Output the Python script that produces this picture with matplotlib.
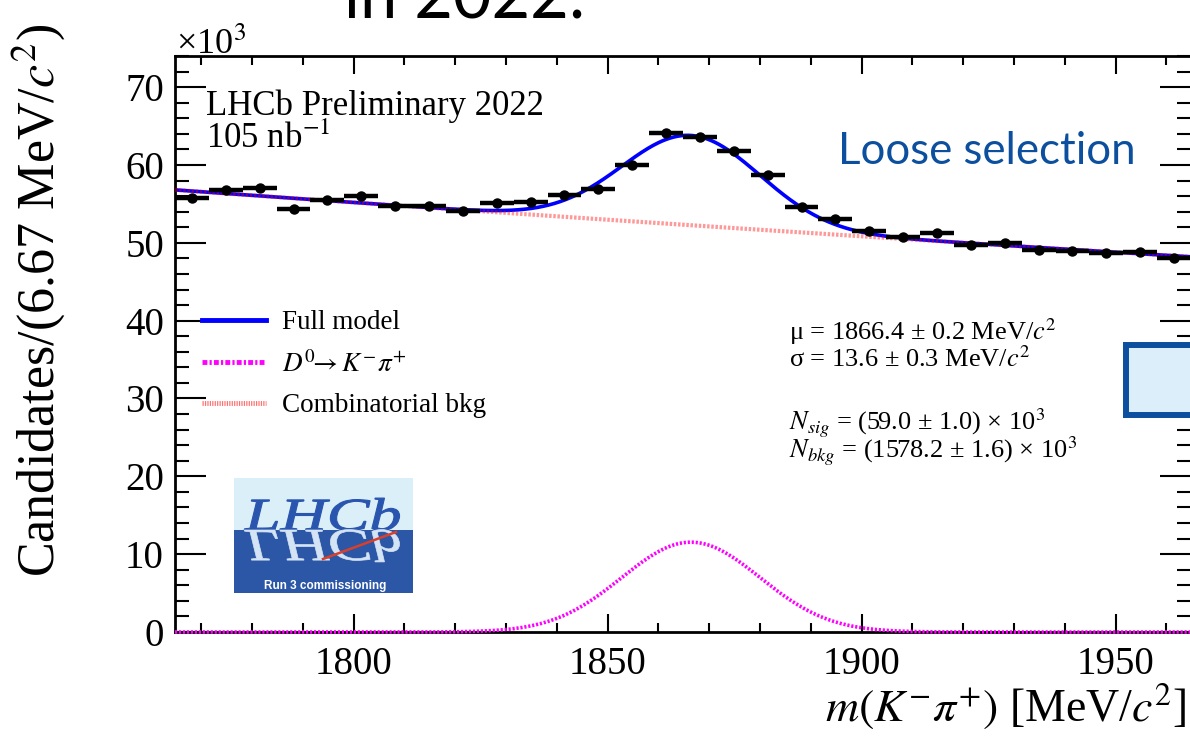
import numpy as np
import matplotlib
matplotlib.use('Agg')
import matplotlib.pyplot as plt
from matplotlib.patches import Rectangle, PathPatch
from matplotlib.textpath import TextPath
from matplotlib.font_manager import FontProperties
from matplotlib.transforms import Affine2D
from matplotlib.lines import Line2D
from matplotlib.ticker import MultipleLocator

plt.rcParams['font.family'] = ['Liberation Serif', 'DejaVu Serif']
plt.rcParams['mathtext.fontset'] = 'stix'

# Datos del histograma (x10^3 candidatos por bin)
m_lo, m_hi = 1764.84, 1964.84
n_bins = 30
counts = [55.7, 56.8, 57.0, 54.3, 55.5, 56.0, 54.7, 54.7, 54.1, 55.1,
          55.2, 56.2, 56.9, 60.0, 64.1, 63.6, 61.8, 58.7, 54.6, 53.0,
          51.5, 50.7, 51.2, 49.7, 50.0, 49.1, 49.0, 48.7, 48.8, 48.0]

# Parametros del ajuste
mu = 1866.4
sigma = 13.6
n_sig = 59.0          # x10^3
bkg_left = 56.8       # fondo en el borde izquierdo (x10^3 por bin)
bkg_right = 48.2      # fondo en el borde derecho

W, H = 1190, 738
fig = plt.figure(figsize=(11.9, 7.38), dpi=100)
ax = fig.add_axes([175 / W, 1 - 632 / H, 1016 / W, (632 - 56) / H])

bw = (m_hi - m_lo) / n_bins
centers = m_lo + bw * (np.arange(n_bins) + 0.5)

m = np.linspace(m_lo, m_hi, 800)
sig = n_sig * bw / (np.sqrt(2 * np.pi) * sigma) * np.exp(-0.5 * ((m - mu) / sigma) ** 2)
bkg = bkg_left * (bkg_right / bkg_left) ** ((m - m_lo) / (m_hi - m_lo))

ax.plot(m, sig + bkg, color='#0000ff', lw=2.6, zorder=2)
ax.plot(m, bkg, color=(1, 0, 0, 0.4), lw=3.0, ls=(0, (0.6, 0.4)), zorder=3)
ax.plot(m, sig, color='#ff00ff', lw=2.6, ls=(0, (0.6, 0.5)), zorder=3, clip_on=False)
ax.errorbar(centers, counts, xerr=bw / 2, fmt='o', color='black', ms=6.5,
            elinewidth=3.2, capsize=0, zorder=5)

ax.set_xlim(m_lo, m_hi)
ax.set_ylim(0, 74)
ax.xaxis.set_major_locator(MultipleLocator(50))
ax.xaxis.set_minor_locator(MultipleLocator(10))
ax.yaxis.set_major_locator(MultipleLocator(10))
ax.yaxis.set_minor_locator(MultipleLocator(2))
ax.tick_params(which='both', direction='in', top=True, right=True, width=1.5, labelsize=28)
ax.xaxis.set_tick_params(which='major', length=13, pad=10)
ax.xaxis.set_tick_params(which='minor', length=6.5)
ax.yaxis.set_tick_params(which='major', length=22, pad=8)
ax.yaxis.set_tick_params(which='minor', length=10)
for s in ax.spines.values():
    s.set_linewidth(2)

# Textos
fig.text(39 / W, 1 - 24 / H, 'Candidates/(6.67 MeV/$c^{2}$)', rotation=90,
         ha='center', va='top', fontsize=37.5)
fig.text(1187 / W, 1 - 721 / H, r'$m(K^{-}\pi^{+})$ [MeV/$c^{2}$]', ha='right',
         va='baseline', fontsize=33)
fig.text(176 / W, 1 - 54 / H, '×10$^{3}$', fontsize=26, va='baseline')
fig.text(206 / W, 1 - 115 / H, 'LHCb Preliminary 2022', fontsize=25, va='baseline')
fig.text(206 / W, 1 - 148 / H, '105 nb$^{-1}$', fontsize=25, va='baseline')
fig.text(838 / W, 1 - 164 / H, 'Loose selection', family='Lato', color='#0b4f9e',
         fontsize=31.5, va='baseline')
fig.text(344 / W, 1 - 17 / H, 'in 2022:', family='Lato', fontsize=48, va='baseline')

fig.text(789 / W, 1 - 340 / H, 'μ = 1866.4 ± 0.2 MeV/$c^{2}$', fontsize=19, va='baseline')
fig.text(789 / W, 1 - 367 / H, 'σ = 13.6 ± 0.3 MeV/$c^{2}$', fontsize=19, va='baseline')
fig.text(789 / W, 1 - 430 / H, '$N_{sig}$ = (59.0 ± 1.0) × 10$^{3}$', fontsize=19, va='baseline')
fig.text(789 / W, 1 - 458 / H, '$N_{bkg}$ = (1578.2 ± 1.6) × 10$^{3}$', fontsize=19, va='baseline')

# Leyenda
handles = [Line2D([], [], color='#0000ff', lw=3.5),
           Line2D([], [], color='#ff00ff', lw=3.5, ls=(0, (1, 0.45, 0.45, 0.45))),
           Line2D([], [], color='#ff7070', lw=3.5, ls=(0, (0.25, 0.25)))]
labels = ['Full model', r'$D^{0}\!\!\rightarrow K^{-}\pi^{+}$', 'Combinatorial bkg']
ax.legend(handles, labels, loc='upper left', bbox_to_anchor=(202 / W, 1 - 310 / H),
          bbox_transform=fig.transFigure, frameon=False, fontsize=19.5, handlelength=2.35,
          handletextpad=0.6, labelspacing=0.58, borderpad=0, borderaxespad=0)

# Logo LHCb
lax = fig.add_axes([234 / W, 1 - 593 / H, 179 / W, 115 / H], zorder=6)
lax.set_xlim(0, 179)
lax.set_ylim(115, 0)
lax.axis('off')
lax.add_patch(Rectangle((0, 0), 179, 52, color='#dbeff9', lw=0))
lax.add_patch(Rectangle((0, 52), 179, 63, color='#2c56a6', lw=0))
tp = TextPath((0, 0), 'LHCb', size=1, prop=FontProperties(family='Liberation Serif', style='italic'))
lax.add_patch(PathPatch(tp, transform=Affine2D().scale(64, -46).translate(11, 52) + lax.transData,
                        color='#2a55ae', lw=0.8))
lax.add_patch(PathPatch(tp, transform=Affine2D().scale(64, 46).translate(11, 52) + lax.transData,
                        color='#d4e4f4', lw=0.5))
lax.plot([89, 162], [81, 54], color='#d9402b', lw=1.8)
lax.text(91, 108, 'Run 3 commissioning', family='Liberation Sans', weight='bold',
         color='white', fontsize=8.5, ha='center', va='center')

# Recuadro azul a la derecha
fig.add_artist(Rectangle((1126 / W, 1 - 415 / H), 80 / W, 70 / H, transform=fig.transFigure,
                         facecolor='#ddeefb', edgecolor='#0b4f9e', lw=4.3, zorder=10))

fig.savefig('out.png', dpi=100)
